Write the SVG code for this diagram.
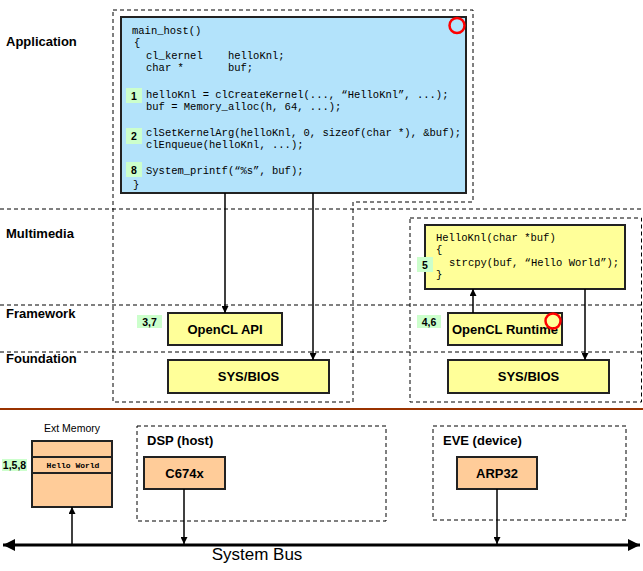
<svg xmlns="http://www.w3.org/2000/svg" width="643" height="571" viewBox="0 0 643 571">
<defs>
<style>
.dash{fill:none;stroke:#000;stroke-width:1;stroke-dasharray:4 3}
.blue{fill:#b3e3fb;stroke:#222;stroke-width:2}
.yel{fill:#ffff99;stroke:#222;stroke-width:2}
.org{fill:#ffcc99;stroke:#222;stroke-width:2}
.badge{fill:#ccffcc;stroke:none}
.code{font-family:"Liberation Mono","DejaVu Sans Mono",monospace;font-size:10.5px;fill:#000;white-space:pre}
.lbl{font-family:"Liberation Sans",Arial,sans-serif;font-weight:bold;font-size:13px;fill:#000}
.bt{font-family:"Liberation Sans",Arial,sans-serif;font-weight:bold;font-size:10.5px;fill:#000;text-anchor:middle}
.ctr{text-anchor:middle}
.conn{stroke:#000;stroke-width:1.5;fill:none}
.ring{fill:none;stroke:#ff0000;stroke-width:2.5}
</style>
<marker id="ah" viewBox="0 0 10 10" refX="10" refY="5" markerWidth="7" markerHeight="7" markerUnits="userSpaceOnUse" orient="auto">
<path d="M0,0 L10,5 L0,10 z" fill="#000"/>
</marker>
<marker id="bh" viewBox="0 0 10 10" refX="10" refY="5" markerWidth="14" markerHeight="12" markerUnits="userSpaceOnUse" orient="auto-start-reverse">
<path d="M0,0 L10,5 L0,10 z" fill="#000"/>
</marker>
</defs>
<rect width="643" height="571" fill="#fff"/>

<g id="layers">
<line class="dash" x1="0" y1="209" x2="643" y2="209"/>
<line class="dash" x1="0" y1="305" x2="643" y2="305"/>
<line class="dash" x1="0" y1="352" x2="643" y2="352"/>
<text class="lbl" x="6" y="46">Application</text>
<text class="lbl" x="6" y="238">Multimedia</text>
<text class="lbl" x="6" y="318">Framework</text>
<text class="lbl" x="6" y="363">Foundation</text>
</g>

<g id="host-region">
<polygon class="dash" points="113,10 473,10 473,202 353,202 353,402 113,402"/>
</g>
<g id="device-region">
<rect class="dash" x="410" y="218" width="231.5" height="184"/>
</g>

<line x1="0" y1="409" x2="643" y2="409" stroke="#993300" stroke-width="2"/>

<g id="main-host">
<rect class="blue" x="121" y="17" width="345" height="176"/>
<text class="code" x="132" y="33.5">main_host()</text>
<text class="code" x="134" y="46">{</text>
<text class="code" x="146" y="58.5">cl_kernel    helloKnl;</text>
<text class="code" x="146" y="71">char *       buf;</text>
<text class="code" x="146" y="97.5">helloKnl = clCreateKernel(..., “HelloKnl”, ...);</text>
<text class="code" x="146" y="110">buf = Memory_alloc(h, 64, ...);</text>
<text class="code" x="146" y="135.5">clSetKernelArg(helloKnl, 0, sizeof(char *), &amp;buf);</text>
<text class="code" x="146" y="148">clEnqueue(helloKnl, ...);</text>
<text class="code" x="146" y="173.5">System_printf(“%s”, buf);</text>
<text class="code" x="133" y="187.5">}</text>
<rect class="badge" x="126" y="88" width="16" height="15"/>
<text class="bt" x="134" y="99.5">1</text>
<rect class="badge" x="126" y="128" width="16" height="16"/>
<text class="bt" x="134" y="140">2</text>
<rect class="badge" x="126" y="162" width="16" height="15"/>
<text class="bt" x="134" y="173.5">8</text>
<circle class="ring" cx="457" cy="25.5" r="7.5"/>
</g>

<g id="hello-knl">
<rect class="yel" x="425" y="225" width="200" height="64"/>
<text class="code" x="436" y="240.5">HelloKnl(char *buf)</text>
<text class="code" x="436" y="253">{</text>
<text class="code" x="449" y="265.5">strcpy(buf, “Hello World”);</text>
<text class="code" x="436" y="278">}</text>
<rect class="badge" x="417" y="257" width="16" height="15"/>
<text class="bt" x="425" y="268.5">5</text>
</g>

<g id="opencl-api">
<rect class="yel" x="168" y="313" width="114" height="32"/>
<text class="lbl ctr" x="225" y="333.5">OpenCL API</text>
<rect class="badge" x="137" y="315" width="25" height="13"/>
<text class="bt" x="149.5" y="325.5">3,7</text>
</g>

<g id="sysbios-host">
<rect class="yel" x="168" y="360" width="161" height="33"/>
<text class="lbl ctr" x="248.5" y="381">SYS/BIOS</text>
</g>

<g id="opencl-runtime">
<rect class="yel" x="448" y="313" width="114" height="32"/>
<text class="lbl" x="452" y="334">OpenCL Runtime</text>
<rect class="badge" x="417" y="315" width="24" height="13"/>
<text class="bt" x="429" y="325.5">4,6</text>
<circle class="ring" cx="553" cy="321" r="7.5"/>
</g>

<g id="sysbios-device">
<rect class="yel" x="448" y="360" width="161" height="33"/>
<text class="lbl ctr" x="528.5" y="381">SYS/BIOS</text>
</g>

<g id="ext-memory">
<text x="72" y="432" font-family="Liberation Sans,Arial,sans-serif" font-size="10.5" text-anchor="middle">Ext Memory</text>
<rect class="org" x="32" y="441" width="80" height="66"/>
<line x1="32" y1="457" x2="112" y2="457" stroke="#222" stroke-width="2"/>
<line x1="32" y1="473" x2="112" y2="473" stroke="#222" stroke-width="2"/>
<text x="73" y="468" font-family="Liberation Mono,monospace" font-size="8" font-weight="bold" text-anchor="middle" style="white-space:pre">Hello World</text>
<rect class="badge" x="2" y="459" width="25" height="12"/>
<text class="bt" x="14.5" y="469">1,5,8</text>
</g>

<g id="dsp">
<rect class="dash" x="137" y="426" width="249" height="95"/>
<text class="lbl" x="147" y="445">DSP (host)</text>
<rect class="org" x="144" y="457" width="81" height="32"/>
<text class="lbl ctr" x="184.5" y="478">C674x</text>
</g>

<g id="eve">
<rect class="dash" x="433" y="426" width="193" height="94"/>
<text class="lbl" x="443" y="445">EVE (device)</text>
<rect class="org" x="457" y="457" width="80" height="32"/>
<text class="lbl ctr" x="497" y="478">ARP32</text>
</g>

<g id="system-bus">
<line x1="3" y1="545" x2="640" y2="545" stroke="#000" stroke-width="3" marker-start="url(#bh)" marker-end="url(#bh)"/>
<text x="257" y="560" font-family="Liberation Sans,Arial,sans-serif" font-size="17" text-anchor="middle">System Bus</text>
</g>

<g id="connectors">
<line class="conn" x1="225" y1="193" x2="225" y2="313" marker-end="url(#ah)"/>
<line class="conn" x1="313" y1="193" x2="313" y2="360" marker-end="url(#ah)"/>
<line class="conn" x1="473" y1="313" x2="473" y2="289" marker-end="url(#ah)"/>
<line class="conn" x1="585" y1="289" x2="585" y2="360" marker-end="url(#ah)"/>
<line class="conn" x1="72" y1="544" x2="72" y2="507" marker-end="url(#ah)"/>
<line class="conn" x1="184" y1="489" x2="184" y2="544" marker-end="url(#ah)"/>
<line class="conn" x1="497" y1="489" x2="497" y2="544" marker-end="url(#ah)"/>
</g>
</svg>
